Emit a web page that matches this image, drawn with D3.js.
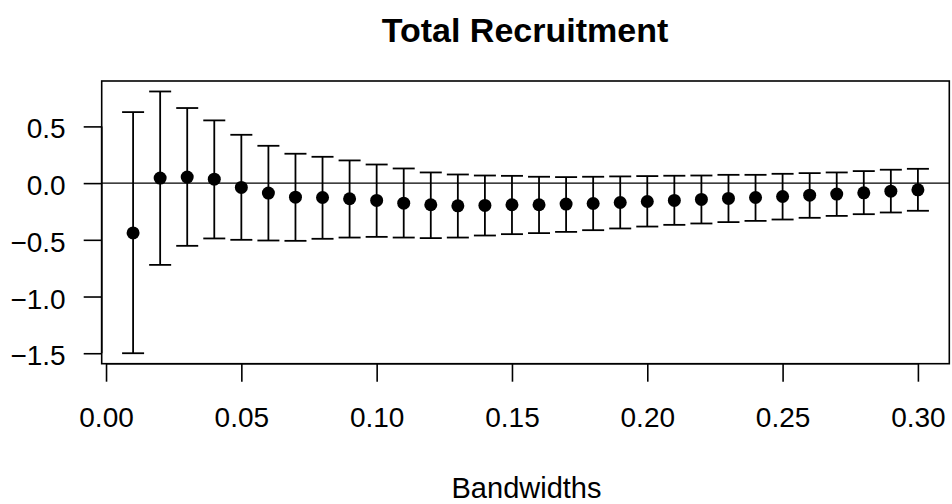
<!DOCTYPE html>
<html>
<head>
<meta charset="utf-8">
<script src="https://cdn.jsdelivr.net/npm/d3@7"></script>
<style>
  body { margin: 0; background: #fff; }
  text { font-family: "Liberation Sans", Arial, Helvetica, sans-serif; fill: #000; }
</style>
</head>
<body>
<div id="graphic"></div>
<script>
var bandwidths = [0.01, 0.02, 0.03, 0.04, 0.05, 0.06, 0.07, 0.08, 0.09, 0.10,
  0.11, 0.12, 0.13, 0.14, 0.15, 0.16, 0.17, 0.18, 0.19, 0.20,
  0.21, 0.22, 0.23, 0.24, 0.25, 0.26, 0.27, 0.28, 0.29, 0.30];
var estimates = [-0.439, 0.044, 0.053, 0.035, -0.038, -0.088, -0.124, -0.127, -0.138, -0.153,
  -0.177, -0.191, -0.200, -0.197, -0.191, -0.191, -0.185, -0.180, -0.171, -0.162,
  -0.153, -0.144, -0.135, -0.127, -0.118, -0.106, -0.097, -0.086, -0.071, -0.059];
var upper = [0.626, 0.808, 0.662, 0.553, 0.426, 0.329, 0.259, 0.232, 0.200, 0.164,
  0.129, 0.094, 0.076, 0.067, 0.064, 0.056, 0.053, 0.056, 0.059, 0.062,
  0.065, 0.067, 0.073, 0.073, 0.082, 0.088, 0.094, 0.106, 0.118, 0.126];
var lower = [-1.500, -0.721, -0.553, -0.488, -0.500, -0.506, -0.509, -0.491, -0.480, -0.474,
  -0.480, -0.485, -0.480, -0.462, -0.450, -0.441, -0.430, -0.415, -0.400, -0.383,
  -0.368, -0.356, -0.344, -0.333, -0.321, -0.306, -0.289, -0.274, -0.259, -0.244];
var xTicks = [0.00, 0.05, 0.10, 0.15, 0.20, 0.25, 0.30];
var yTicks = [-1.5, -1.0, -0.5, 0.0, 0.5];
var title = "Total Recruitment";
var xLabel = "Bandwidths";

var width = 952;
var height = 504;
var plotLeft = 101.7;
var plotRight = 949.3;
var plotTop = 81;
var plotBottom = 363.7;
var tickLen = 18;
var capHalf = 11;
var radius = 6.5;

var data = bandwidths.map(function(b, i) {
  return { bw: b, est: estimates[i], lo: lower[i], hi: upper[i] };
});

// R style: pad data range by 4% on each side
function padded(extent) {
  var d = (extent[1] - extent[0]) * 0.04;
  return [extent[0] - d, extent[1] + d];
}

var xScale = d3.scaleLinear()
  .domain(padded(d3.extent(bandwidths)))
  .range([plotLeft, plotRight]);

var yScale = d3.scaleLinear()
  .domain(padded([d3.min(lower), d3.max(upper)]))
  .range([plotBottom, plotTop]);

var svg = d3.select("#graphic")
  .append("svg")
  .attr("width", width)
  .attr("height", height);

// zero line
svg.append("line")
  .attr("x1", plotLeft).attr("x2", plotRight)
  .attr("y1", yScale(0)).attr("y2", yScale(0))
  .attr("stroke", "#000")
  .attr("stroke-width", 1.3);

// error bars
var bars = svg.append("g")
  .attr("stroke", "#000")
  .attr("stroke-width", 1.8);

bars.selectAll("line.stem")
  .data(data)
  .join("line")
  .attr("class", "stem")
  .attr("x1", d => xScale(d.bw)).attr("x2", d => xScale(d.bw))
  .attr("y1", d => yScale(d.lo)).attr("y2", d => yScale(d.hi));

bars.selectAll("line.cap-hi")
  .data(data)
  .join("line")
  .attr("class", "cap-hi")
  .attr("x1", d => xScale(d.bw) - capHalf).attr("x2", d => xScale(d.bw) + capHalf)
  .attr("y1", d => yScale(d.hi)).attr("y2", d => yScale(d.hi));

bars.selectAll("line.cap-lo")
  .data(data)
  .join("line")
  .attr("class", "cap-lo")
  .attr("x1", d => xScale(d.bw) - capHalf).attr("x2", d => xScale(d.bw) + capHalf)
  .attr("y1", d => yScale(d.lo)).attr("y2", d => yScale(d.lo));

// points
svg.append("g")
  .selectAll("circle")
  .data(data)
  .join("circle")
  .attr("cx", d => xScale(d.bw))
  .attr("cy", d => yScale(d.est))
  .attr("r", radius)
  .attr("fill", "#000");

// box
svg.append("rect")
  .attr("x", plotLeft).attr("y", plotTop)
  .attr("width", plotRight - plotLeft).attr("height", plotBottom - plotTop)
  .attr("fill", "none")
  .attr("stroke", "#000")
  .attr("stroke-width", 1.6);

// axes
var xAxis = d3.axisBottom(xScale)
  .tickValues(xTicks)
  .tickFormat(d3.format(".2f"))
  .tickSize(tickLen)
  .tickPadding(25)
  .tickSizeOuter(0);

var gx = svg.append("g")
  .attr("transform", "translate(0," + plotBottom + ")")
  .call(xAxis);
gx.select(".domain").remove();
gx.append("line")
  .attr("x1", xScale(xTicks[0])).attr("x2", xScale(xTicks[xTicks.length - 1]))
  .attr("stroke", "#000").attr("stroke-width", 1.6);

var yAxis = d3.axisLeft(yScale)
  .tickValues(yTicks)
  .tickFormat(d3.format(".1f"))
  .tickSize(tickLen)
  .tickPadding(18)
  .tickSizeOuter(0);

var gy = svg.append("g")
  .attr("transform", "translate(" + plotLeft + ",0)")
  .call(yAxis);
gy.select(".domain").remove();
gy.append("line")
  .attr("y1", yScale(yTicks[0])).attr("y2", yScale(yTicks[yTicks.length - 1]))
  .attr("stroke", "#000").attr("stroke-width", 1.6);

svg.selectAll(".tick line").attr("stroke", "#000").attr("stroke-width", 1.6);
svg.selectAll(".tick text")
  .attr("font-family", "Liberation Sans, Arial, sans-serif")
  .attr("font-size", 28)
  .attr("fill", "#000");
gy.selectAll(".tick text").attr("dy", "0.41em");

// title and label
svg.append("text")
  .attr("x", 525)
  .attr("y", 42)
  .attr("text-anchor", "middle")
  .attr("font-size", 34)
  .attr("font-weight", "bold")
  .text(title);

svg.append("text")
  .attr("x", 526.5)
  .attr("y", 498)
  .attr("text-anchor", "middle")
  .attr("font-size", 29)
  .text(xLabel);
</script>
</body>
</html>
